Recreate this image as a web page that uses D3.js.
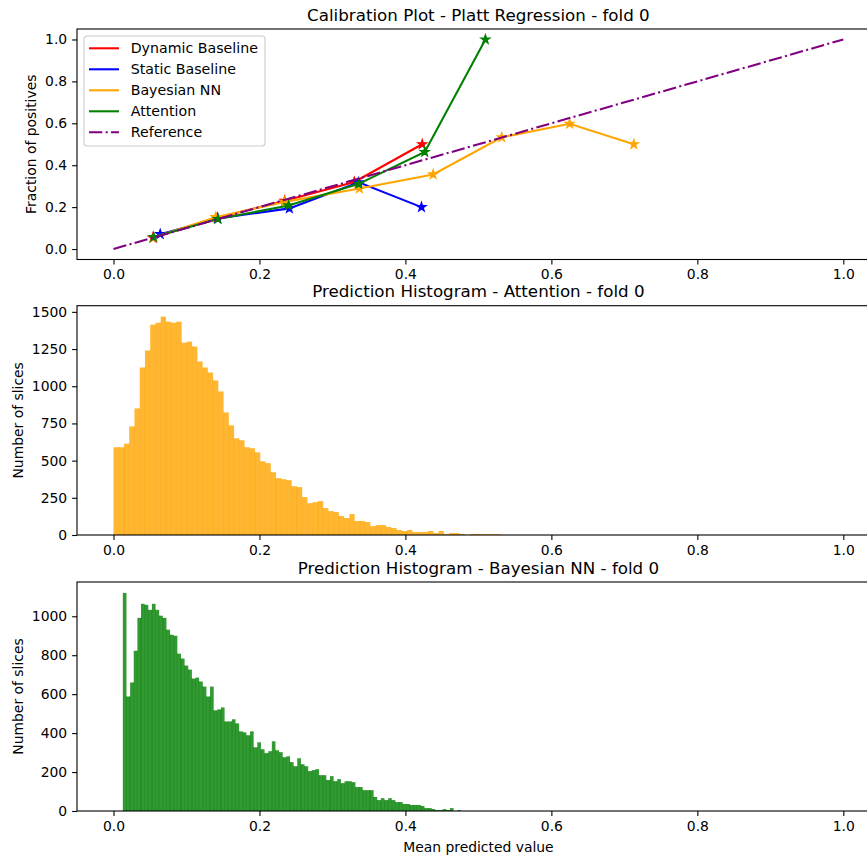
<!DOCTYPE html>
<html>
<head>
<meta charset="utf-8">
<script src="https://cdn.jsdelivr.net/npm/d3@7"></script>
<style>
  body { margin: 0; background: #fff; }
  text { font-family: "DejaVu Sans", sans-serif; fill: #000; }
</style>
</head>
<body>
<script>
// Calibration curves: mean predicted value (x) vs fraction of positives (y)
const dynamicX = [0.054, 0.142, 0.2345, 0.330, 0.423];
const dynamicY = [0.054, 0.149, 0.230, 0.320, 0.500];
const staticX = [0.064, 0.143, 0.241, 0.336, 0.422];
const staticY = [0.071, 0.146, 0.194, 0.318, 0.200];
const bayesX = [0.055, 0.140, 0.2345, 0.337, 0.438, 0.532, 0.625, 0.713];
const bayesY = [0.055, 0.152, 0.225, 0.289, 0.356, 0.533, 0.598, 0.500];
const attnX = [0.055, 0.143, 0.240, 0.336, 0.4265, 0.5096];
const attnY = [0.057, 0.143, 0.208, 0.311, 0.463, 1.0];
const refX = [0, 1];
const refY = [0, 1];

// Histogram of Attention predictions (orange)
const attnBinStart = 0;
const attnBinWidth = 0.5316 / 74;
const attnCounts = [590, 590, 614, 730, 851, 1126, 1240, 1414, 1427, 1468,
  1434, 1427, 1434, 1293, 1300, 1267, 1166, 1126, 1092, 1039,
  965, 824, 737, 650, 637, 590, 583, 556, 496, 483,
  422, 382, 375, 369, 328, 322, 255, 214, 221, 228,
  181, 161, 154, 127, 114, 141, 94, 94, 87, 60,
  67, 67, 54, 47, 34, 27, 34, 20, 20, 20,
  27, 13, 27, 7, 13, 13, 7, 0, 7, 7,
  5, 5, 5, 5];

// Histogram of Bayesian NN predictions (green)
const bnnBinStart = 0.0128;
const bnnBinWidth = 0.00498;
const bnnCounts = [1120, 588, 660, 823, 992, 1064, 1059, 1033, 1064, 1033,
  1003, 992, 931, 905, 900, 808, 783, 747, 726, 680,
  685, 665, 639, 588, 639, 517, 522, 532, 460, 460,
  471, 450, 409, 404, 389, 409, 327, 353, 317, 297,
  307, 358, 312, 302, 276, 281, 251, 230, 271, 240,
  230, 205, 210, 215, 184, 184, 159, 179, 153, 164,
  143, 153, 153, 148, 123, 123, 107, 107, 107, 72,
  56, 66, 56, 66, 56, 46, 46, 36, 36, 31,
  31, 31, 26, 15, 15, 10, 5, 5, 10, 5,
  15, 0, 5];

// Tick values
const xTicks = [0, 0.2, 0.4, 0.6, 0.8, 1.0];
const calTicks = [0, 0.2, 0.4, 0.6, 0.8, 1.0];
const attnTicks = [0, 250, 500, 750, 1000, 1250, 1500];
const bnnTicks = [0, 200, 400, 600, 800, 1000];

const W = 867, H = 858;
const left = 77, right = 879.8;
const labelSize = 13.9, titleSize = 16.7;

const svg = d3.select("body").append("svg")
    .attr("width", W)
    .attr("height", H);

const x = d3.scaleLinear().domain([-0.05, 1.05]).range([left, right]);

// Draw the frame, ticks and texts of one panel
function drawAxes(top, bottom, y, yTicks, yFormat, title, yLabel, yLabelX, xLabel) {
    svg.append("g")
        .attr("transform", `translate(0,${bottom})`)
        .call(d3.axisBottom(x).tickValues(xTicks).tickFormat(d3.format(".1f"))
            .tickSize(4.9).tickPadding(4.9).tickSizeOuter(0))
        .call(g => g.select(".domain").remove())
        .attr("font-family", null).attr("font-size", labelSize)
        .call(g => g.selectAll("line").attr("stroke-width", 1.1));

    svg.append("g")
        .attr("transform", `translate(${left},0)`)
        .call(d3.axisLeft(y).tickValues(yTicks).tickFormat(yFormat)
            .tickSize(4.9).tickPadding(4.9).tickSizeOuter(0))
        .call(g => g.select(".domain").remove())
        .attr("font-family", null).attr("font-size", labelSize)
        .call(g => g.selectAll("line").attr("stroke-width", 1.1));

    svg.append("rect")
        .attr("x", left).attr("y", top)
        .attr("width", right - left).attr("height", bottom - top)
        .attr("fill", "none").attr("stroke", "#000").attr("stroke-width", 1.1);

    svg.append("text")
        .attr("x", (left + right) / 2).attr("y", top - 8.3)
        .attr("text-anchor", "middle").attr("font-size", titleSize)
        .text(title);

    svg.append("text")
        .attr("transform", `translate(${yLabelX},${(top + bottom) / 2}) rotate(-90)`)
        .attr("text-anchor", "middle").attr("font-size", labelSize)
        .text(yLabel);

    if (xLabel) {
        svg.append("text")
            .attr("x", (left + right) / 2).attr("y", bottom + 41)
            .attr("text-anchor", "middle").attr("font-size", labelSize)
            .text(xLabel);
    }
}

function starPath(R) {
    const r = R * 0.381966;
    const pts = d3.range(10).map(i => {
        const a = -Math.PI / 2 + i * Math.PI / 5;
        const rr = i % 2 ? r : R;
        return [rr * Math.cos(a), rr * Math.sin(a)];
    });
    return "M" + pts.map(p => p.join(",")).join("L") + "Z";
}

// ---- Panel 1: calibration plot ----
const calTop = 29, calBottom = 259.5;
const yCal = d3.scaleLinear().domain([-0.05, 1.05]).range([calBottom, calTop]);
drawAxes(calTop, calBottom, yCal, calTicks, d3.format(".1f"),
    "Calibration Plot - Platt Regression - fold 0", "Fraction of positives", 36);

const series = [
    { name: "Dynamic Baseline", xs: dynamicX, ys: dynamicY, color: "red" },
    { name: "Static Baseline", xs: staticX, ys: staticY, color: "blue" },
    { name: "Bayesian NN", xs: bayesX, ys: bayesY, color: "orange" },
    { name: "Attention", xs: attnX, ys: attnY, color: "green" }
];

const line = d3.line().x(d => x(d[0])).y(d => yCal(d[1]));

series.forEach(s => {
    const pts = d3.zip(s.xs, s.ys);
    svg.append("path")
        .attr("d", line(pts))
        .attr("fill", "none").attr("stroke", s.color).attr("stroke-width", 2.08);
    svg.append("g").selectAll("path")
        .data(pts)
        .enter().append("path")
        .attr("transform", d => `translate(${x(d[0])},${yCal(d[1])})`)
        .attr("d", starPath(4.6))
        .attr("fill", s.color).attr("stroke", s.color)
        .attr("stroke-width", 1.3).attr("stroke-linejoin", "miter");
});

svg.append("path")
    .attr("d", line(d3.zip(refX, refY)))
    .attr("fill", "none").attr("stroke", "purple").attr("stroke-width", 2.08)
    .attr("stroke-dasharray", "13.3,3.3,2.1,3.3");

// Legend
const legend = svg.append("g").attr("transform", "translate(84,36)");
legend.append("rect")
    .attr("width", 181).attr("height", 110).attr("rx", 3)
    .attr("fill", "#fff").attr("fill-opacity", 0.8)
    .attr("stroke", "#ccc").attr("stroke-width", 1.1);

const legendItems = series.map(s => ({ name: s.name, color: s.color, dash: null }))
    .concat([{ name: "Reference", color: "purple", dash: "13.3,3.3,2.1,3.3" }]);

legendItems.forEach((d, i) => {
    const yy = 12.3 + i * 21;
    legend.append("line")
        .attr("x1", 5).attr("x2", 35).attr("y1", yy).attr("y2", yy)
        .attr("stroke", d.color).attr("stroke-width", 2.08)
        .attr("stroke-dasharray", d.dash);
    legend.append("text")
        .attr("x", 46.7).attr("y", yy + 5)
        .attr("font-size", 14.2)
        .text(d.name);
});

// ---- Histogram panels ----
function drawHist(top, bottom, counts, binStart, binWidth, color, ticks, title, yLabelX, xLabel) {
    const y = d3.scaleLinear().domain([0, d3.max(counts) * 1.05]).range([bottom, top]);
    const g = svg.append("g");
    g.selectAll("rect")
        .data(counts)
        .enter().append("rect")
        .attr("x", (d, i) => x(binStart + i * binWidth))
        .attr("width", (d, i) => x(binStart + (i + 1) * binWidth) - x(binStart + i * binWidth))
        .attr("y", d => y(d))
        .attr("height", d => bottom - y(d))
        .attr("fill", color).attr("fill-opacity", 0.8);

    // darker seams between neighbouring bars
    g.selectAll("line")
        .data(counts.slice(1))
        .enter().append("line")
        .attr("x1", (d, i) => x(binStart + (i + 1) * binWidth))
        .attr("x2", (d, i) => x(binStart + (i + 1) * binWidth))
        .attr("y1", bottom)
        .attr("y2", (d, i) => y(Math.min(d, counts[i])))
        .attr("stroke", color).attr("stroke-opacity", 0.8).attr("stroke-width", 0.8);

    drawAxes(top, bottom, y, ticks, d3.format("d"), title, "Number of slices", yLabelX, xLabel);
}

drawHist(305.7, 535, attnCounts, attnBinStart, attnBinWidth, "orange", attnTicks,
    "Prediction Histogram - Attention - fold 0", 22.5);
drawHist(582, 811, bnnCounts, bnnBinStart, bnnBinWidth, "green", bnnTicks,
    "Prediction Histogram - Bayesian NN - fold 0", 22.5, "Mean predicted value");
</script>
</body>
</html>
